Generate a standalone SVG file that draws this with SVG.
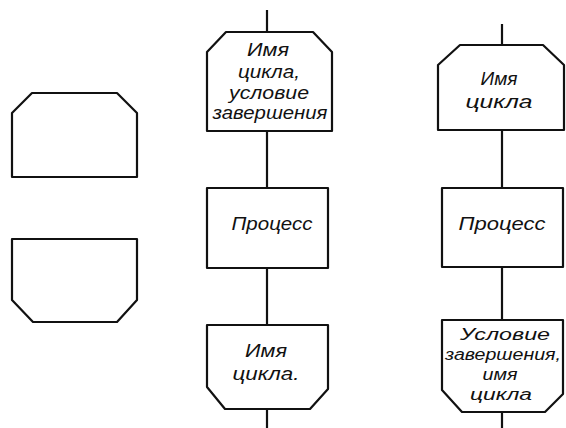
<svg xmlns="http://www.w3.org/2000/svg" width="566" height="428" viewBox="0 0 566 428">
<style>
.s{fill:#fff;stroke:#111;stroke-width:2.2;stroke-linejoin:round}
.c{stroke:#111;stroke-width:2.2;fill:none}
.t{font-family:"Liberation Sans","DejaVu Sans",sans-serif;font-style:italic;font-size:18px;fill:#111;text-anchor:middle}
.n{font-size:16px}
</style>
<rect width="566" height="428" fill="#fff"/>
<g id="connectors">
<line class="c" x1="267" y1="10" x2="267" y2="32"/>
<line class="c" x1="267" y1="131" x2="267" y2="188"/>
<line class="c" x1="267" y1="268" x2="267" y2="325"/>
<line class="c" x1="267" y1="409" x2="267" y2="428"/>
<line class="c" x1="502" y1="24" x2="502" y2="45"/>
<line class="c" x1="502" y1="130" x2="502" y2="188"/>
<line class="c" x1="502" y1="267" x2="502" y2="320"/>
<line class="c" x1="502" y1="412" x2="502" y2="428"/>
</g>
<g id="loop-start-symbol">
<polygon class="s" points="32,93 117,93 137,113 137,177 12,177 12,113"/>
</g>
<g id="loop-end-symbol">
<polygon class="s" points="12,239 137,239 137,300 117,322 33,322 12,300"/>
</g>
<g id="mid-loop-start">
<polygon class="s" points="226,32 313,32 332,52 332,131 207,131 207,52"/>
<text class="t" x="268" y="56" textLength="42" lengthAdjust="spacingAndGlyphs">Имя</text>
<text class="t" x="269" y="78" textLength="62" lengthAdjust="spacingAndGlyphs">цикла,</text>
<text class="t" x="269" y="99" textLength="80" lengthAdjust="spacingAndGlyphs">условие</text>
<text class="t" x="270" y="119" textLength="115" lengthAdjust="spacingAndGlyphs">завершения</text>
</g>
<g id="mid-process">
<rect class="s" x="207" y="188" width="121" height="80"/>
<text class="t" x="272" y="230" textLength="81" lengthAdjust="spacingAndGlyphs">Процесс</text>
</g>
<g id="mid-loop-end">
<polygon class="s" points="207,325 328,325 328,389 310,409 225,409 207,387"/>
<text class="t" x="266" y="357" textLength="42" lengthAdjust="spacingAndGlyphs">Имя</text>
<text class="t" x="266" y="380" textLength="67" lengthAdjust="spacingAndGlyphs">цикла.</text>
</g>
<g id="right-loop-start">
<polygon class="s" points="460,45 543,45 564,65 564,130 438,130 438,65"/>
<text class="t" x="499" y="85" textLength="37" lengthAdjust="spacingAndGlyphs">Имя</text>
<text class="t" x="499" y="108" textLength="67" lengthAdjust="spacingAndGlyphs">цикла</text>
</g>
<g id="right-process">
<rect class="s" x="442" y="188" width="121" height="79"/>
<text class="t" x="502" y="230" textLength="87" lengthAdjust="spacingAndGlyphs">Процесс</text>
</g>
<g id="right-loop-end">
<polygon class="s" points="442,320 563,320 563,394 545,412 462,412 442,390"/>
<text class="t n" x="505" y="340" textLength="90" lengthAdjust="spacingAndGlyphs">Условие</text>
<text class="t n" x="503" y="360" textLength="116" lengthAdjust="spacingAndGlyphs">завершения,</text>
<text class="t n" x="500" y="380" textLength="35" lengthAdjust="spacingAndGlyphs">имя</text>
<text class="t n" x="501" y="400" textLength="62" lengthAdjust="spacingAndGlyphs">цикла</text>
</g>
</svg>
